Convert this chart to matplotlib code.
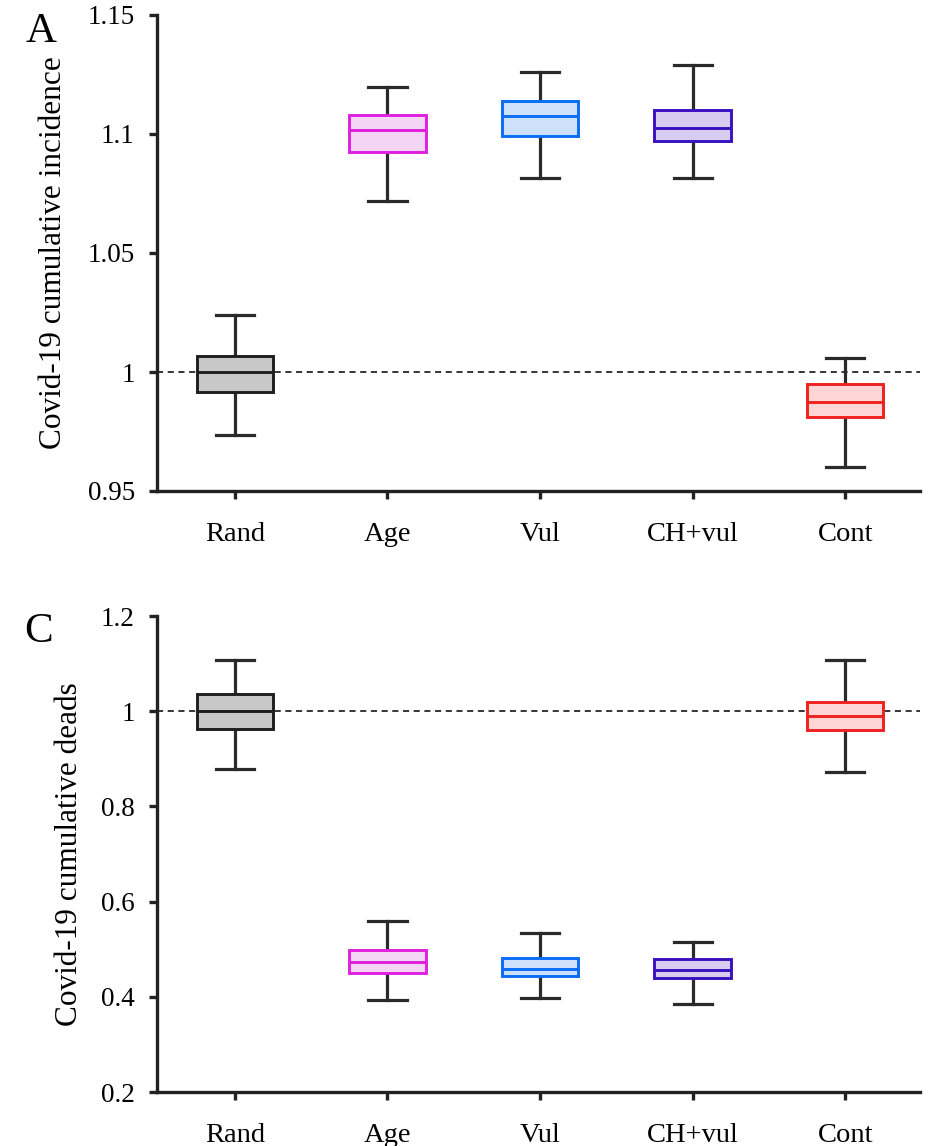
import numpy as np
import matplotlib.pyplot as plt

plt.rcParams['font.family'] = ['Liberation Serif', 'DejaVu Serif']

labels = ['Rand', 'Age', 'Vul', 'CH+vul', 'Cont']
edge_colors = ['#1e1e1e', '#e020e0', '#0a6cf5', '#3a10c0', '#f02020']
face_colors = ['#c8c8c8', '#f5d5f5', '#cde1fc', '#d8cdf0', '#fdd5d5']

# incidence: lower whisker, q1, median, q3, upper whisker
inc_low = [0.9735, 1.0718, 1.0816, 1.0814, 0.9602]
inc_q1 = [0.9916, 1.0924, 1.0993, 1.0972, 0.9810]
inc_med = [1.0000, 1.1017, 1.1077, 1.1024, 0.9873]
inc_q3 = [1.0067, 1.1080, 1.1140, 1.1100, 0.9948]
inc_high = [1.0240, 1.1197, 1.1260, 1.1290, 1.0060]

# deaths
dead_low = [0.879, 0.393, 0.398, 0.385, 0.872]
dead_q1 = [0.963, 0.451, 0.444, 0.439, 0.960]
dead_med = [1.000, 0.473, 0.458, 0.456, 0.990]
dead_q3 = [1.036, 0.498, 0.481, 0.479, 1.019]
dead_high = [1.108, 0.559, 0.535, 0.515, 1.108]


def stats(low, q1, med, q3, high):
    return [dict(whislo=a, q1=b, med=c, q3=d, whishi=e, fliers=[])
            for a, b, c, d, e in zip(low, q1, med, q3, high)]


def draw(ax, st, ylim, yticks, yticklabels, ylabel, lab_x):
    pos = np.arange(1, len(labels) + 1)
    ax.axhline(1.0, color='black', linestyle=(0, (4, 3)), linewidth=1.1, zorder=1)
    bp = ax.bxp(st, positions=pos, widths=0.5, patch_artist=True,
                showfliers=False, manage_ticks=False,
                whiskerprops=dict(color='#2a2a2a', linewidth=2.3),
                capprops=dict(color='#2a2a2a', linewidth=2.3),
                capwidths=0.25)
    for i, box in enumerate(bp['boxes']):
        box.set_facecolor(face_colors[i])
        box.set_edgecolor(edge_colors[i])
        box.set_linewidth(2.1)
        box.set_zorder(3)
        bp['medians'][i].set_color(edge_colors[i])
        bp['medians'][i].set_linewidth(2.1)
        bp['medians'][i].set_zorder(4)
    ax.set_xlim(0.49, 5.49)
    ax.set_ylim(*ylim)
    ax.set_xticks(pos)
    ax.set_xticklabels(labels)
    ax.set_yticks(yticks)
    ax.set_yticklabels(yticklabels)
    ax.spines['top'].set_visible(False)
    ax.spines['right'].set_visible(False)
    for side in ['left', 'bottom']:
        ax.spines[side].set_linewidth(2.4)
        ax.spines[side].set_color('#222222')
    ax.tick_params(axis='both', direction='out', length=6, width=2.4,
                   color='#222222')
    ax.tick_params(axis='x', pad=16, labelsize=20.5)
    ax.tick_params(axis='y', pad=10, labelsize=19.5)
    ax.set_ylabel(ylabel, fontsize=22.5)
    ax.yaxis.set_label_coords(lab_x, 0.5)


fig = plt.figure(figsize=(9.33, 11.46), dpi=100)
ax1 = fig.add_axes([157 / 933, 1 - 491 / 1146, 763 / 933, 476 / 1146])
ax2 = fig.add_axes([157 / 933, 1 - 1092 / 1146, 763 / 933, 476 / 1146])

draw(ax1, stats(inc_low, inc_q1, inc_med, inc_q3, inc_high),
     (0.95, 1.15), [0.95, 1.0, 1.05, 1.1, 1.15],
     ['0.95', '1', '1.05', '1.1', '1.15'],
     'Covid-19 cumulative incidence', -0.117)
draw(ax2, stats(dead_low, dead_q1, dead_med, dead_q3, dead_high),
     (0.2, 1.2), [0.2, 0.4, 0.6, 0.8, 1.0, 1.2],
     ['0.2', '0.4', '0.6', '0.8', '1', '1.2'],
     'Covid-19 cumulative deads', -0.096)

fig.text(26 / 933, 1 - 42 / 1146, 'A', fontsize=31, ha='left', va='baseline')
fig.text(24 / 933, 1 - 642 / 1146, 'C', fontsize=31, ha='left', va='baseline')

fig.savefig('out.png', dpi=100)
